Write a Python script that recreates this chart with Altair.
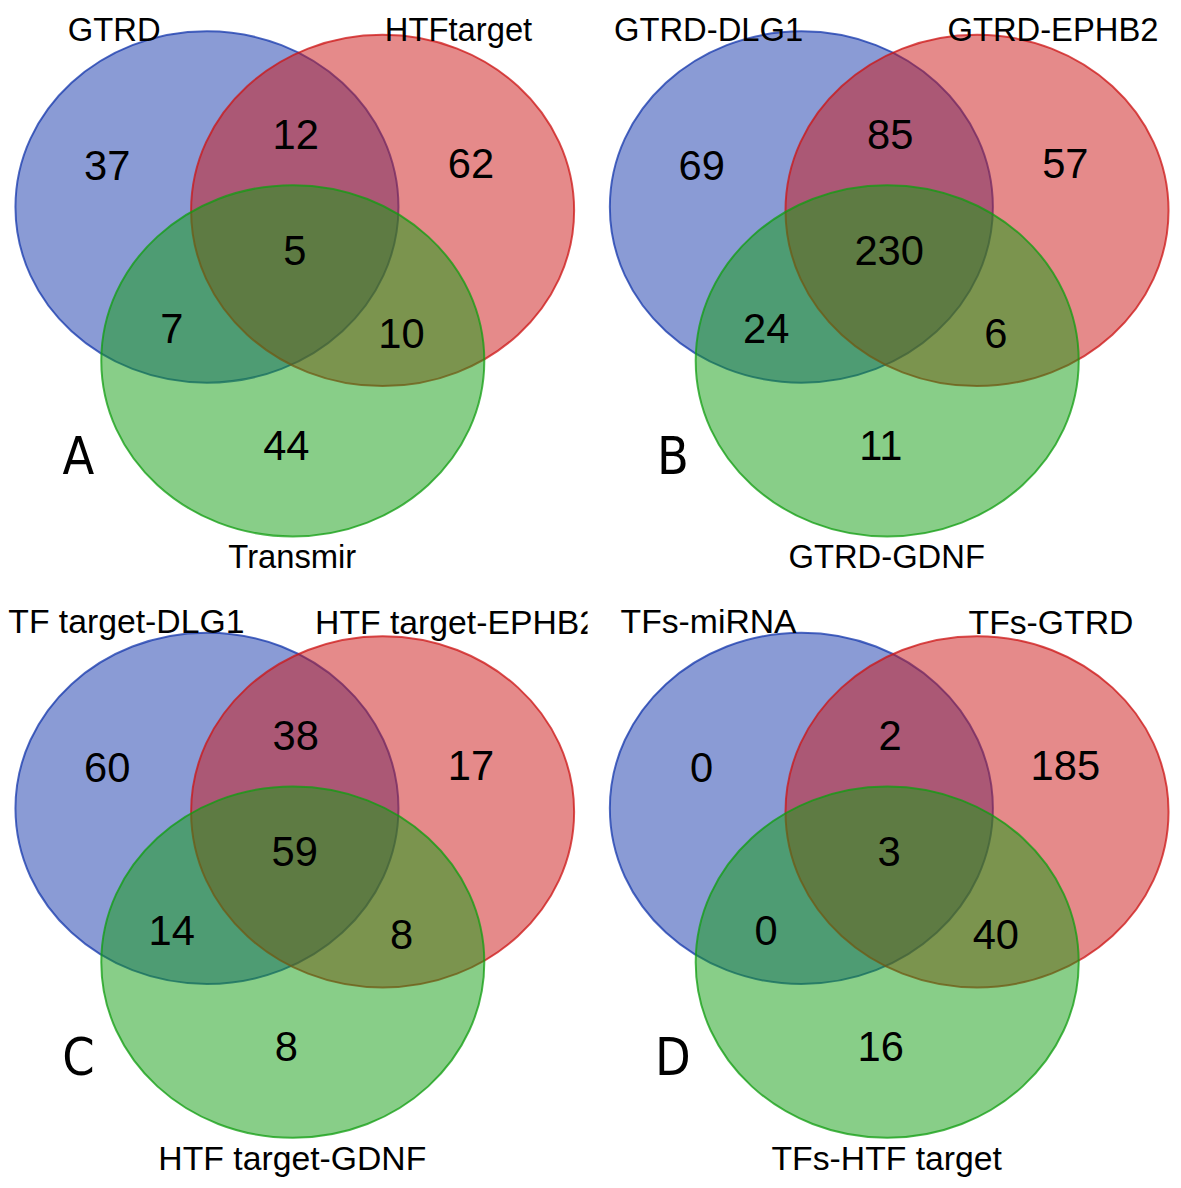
import altair as alt
import pandas as pd

# ---------------- data ----------------
PANEL_LETTERS = ["A", "B", "C", "D"]
SET_NAMES_A = ["GTRD", "HTFtarget", "Transmir"]
SET_NAMES_B = ["GTRD-DLG1", "GTRD-EPHB2", "GTRD-GDNF"]
SET_NAMES_C = ["HTF target-DLG1", "HTF target-EPHB2", "HTF target-GDNF"]
SET_NAMES_D = ["TFs-miRNA", "TFs-GTRD", "TFs-HTF target"]
REGIONS = ["1", "2", "3", "12", "13", "23", "123"]
COUNTS_A = [37, 62, 44, 12, 7, 10, 5]
COUNTS_B = [69, 57, 11, 85, 24, 6, 230]
COUNTS_C = [60, 17, 8, 38, 14, 8, 59]
COUNTS_D = [0, 185, 16, 2, 0, 40, 3]
SET_COLORS = ["#1638ac", "#cc1616", "#129e12"]

# ---------------- layout (panel-local pixel coordinates) ----------------
PANEL_ORIGIN = [(0, 0), (599, 0), (0, 606), (599, 606)]
PANEL_BOX = [(8, 592, 8, 600), (592, 1177, 8, 600),
             (8, 592, 600, 1182), (592, 1177, 600, 1182)]
ELLIPSE_CENTER = [(208.5, 204.0), (385.5, 207.5), (295.0, 359.0)]
RX, RY = 193.0, 177.0
REGION_XY = {"1": (108, 165), "2": (474.5, 163), "3": (288.5, 447),
             "12": (298, 133.5), "13": (173, 329.5), "23": (404.5, 334),
             "123": (297, 250)}
# baselines of set labels; the top row needs a little room below the page margin
SETLABEL_XY_TOP = [(115, 37), (462, 37), (294.5, 568)]
SETLABEL_XY_BOTTOM = [(115, 27), (460, 28), (294.5, 568)]
LETTER_XY = (79, 456)

ELLIPSE_PATH = "M -1 0 A 1 {r} 0 1 1 1 0 A 1 {r} 0 1 1 -1 0 Z".format(r=round(RY / RX, 4))
ELLIPSE_SIZE = (2 * RX) ** 2

FONT = "Liberation Sans"
LETTER_FONT = "Liberation Sans Narrow, DejaVu Sans Condensed, Liberation Sans"


def panel(i, names, counts):
    ox, oy = PANEL_ORIGIN[i]
    x0, x1, y0, y1 = PANEL_BOX[i]
    xs = alt.Scale(domain=[x0 - ox, x1 - ox], nice=False, zero=False)
    ys = alt.Scale(domain=[y0 - oy, y1 - oy], nice=False, zero=False, reverse=True)
    X = lambda f: alt.X(f, type="quantitative", scale=xs, axis=None)
    Y = lambda f: alt.Y(f, type="quantitative", scale=ys, axis=None)

    color_scale = alt.Scale(domain=[0, 1, 2], range=SET_COLORS)
    layers = []
    for k in range(3):
        ell = pd.DataFrame({"set": [k], "cx": [ELLIPSE_CENTER[k][0]],
                            "cy": [ELLIPSE_CENTER[k][1]]})
        layers.append(
            alt.Chart(ell).mark_point(
                shape=ELLIPSE_PATH, filled=True, size=ELLIPSE_SIZE,
                fillOpacity=0.5, strokeOpacity=0.75, strokeWidth=2, opacity=1,
            ).encode(
                x=X("cx"), y=Y("cy"),
                fill=alt.Fill("set:N", scale=color_scale, legend=None),
                stroke=alt.Stroke("set:N", scale=color_scale, legend=None),
            )
        )

    nums = pd.DataFrame({
        "label": [str(v) for v in counts],
        "x": [REGION_XY[r][0] for r in REGIONS],
        "y": [REGION_XY[r][1] for r in REGIONS],
    })
    layers.append(
        alt.Chart(nums).mark_text(
            font=FONT, fontSize=42, color="black", align="center",
            baseline="alphabetic", dy=12, clip=True,
        ).encode(x=X("x"), y=Y("y"), text="label:N")
    )

    top_row = oy == 0
    lab_xy = SETLABEL_XY_TOP if top_row else SETLABEL_XY_BOTTOM
    labs = pd.DataFrame({
        "name": names,
        "x": [p[0] for p in lab_xy],
        "y": [p[1] for p in lab_xy],
    })
    layers.append(
        alt.Chart(labs).mark_text(
            font=FONT, fontSize=33 if top_row else 34, color="black",
            align="center", baseline="alphabetic", clip=True,
        ).encode(x=X("x"), y=Y("y"), text="name:N")
    )

    let = pd.DataFrame({"t": [PANEL_LETTERS[i]], "x": [LETTER_XY[0]], "y": [LETTER_XY[1]]})
    layers.append(
        alt.Chart(let).mark_text(
            font=LETTER_FONT, fontSize=52, color="black",
            align="center", baseline="alphabetic", dy=17, clip=True,
        ).encode(x=X("x"), y=Y("y"), text="t:N")
    )

    return alt.layer(*layers).properties(width=x1 - x0, height=y1 - y0)


pA = panel(0, SET_NAMES_A, COUNTS_A)
pB = panel(1, SET_NAMES_B, COUNTS_B)
pC = panel(2, SET_NAMES_C, COUNTS_C)
pD = panel(3, SET_NAMES_D, COUNTS_D)

chart = alt.concat(
    pA, pB, pC, pD, columns=2, spacing=0, bounds="flush",
).properties(padding=0, background="white").configure_view(stroke=None)

chart.save("out.html", embed_options={"renderer": "svg", "actions": False})
